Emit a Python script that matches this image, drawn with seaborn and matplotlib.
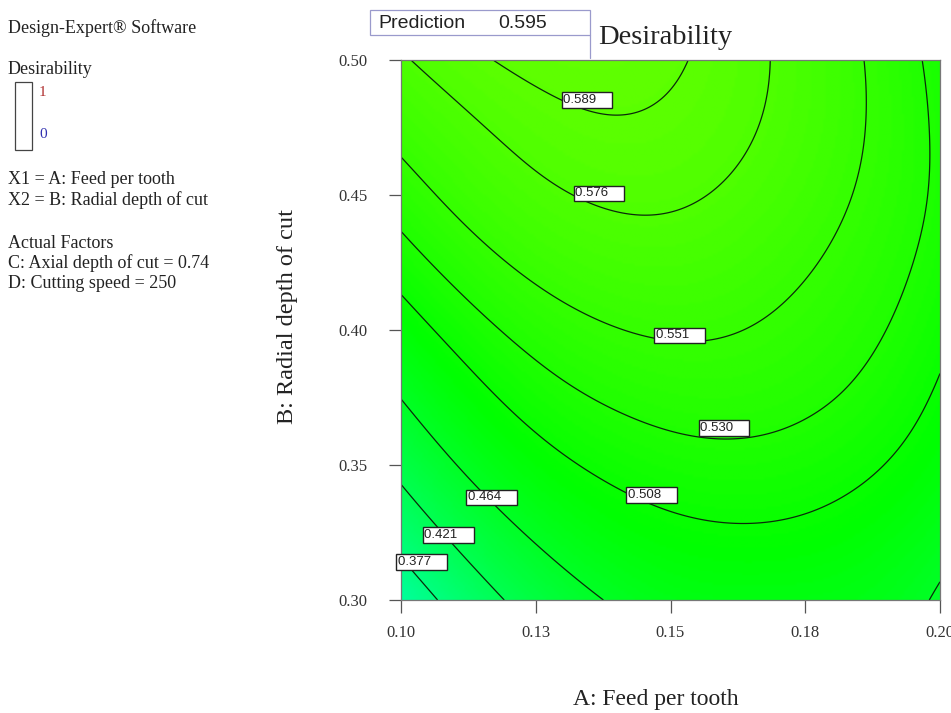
import numpy as np
import matplotlib
matplotlib.use("Agg")
import matplotlib.pyplot as plt
from matplotlib.patches import Rectangle
from matplotlib.lines import Line2D
import seaborn as sns

# ---------------- data ----------------
levels = [0.377, 0.421, 0.464, 0.508, 0.530, 0.551, 0.576, 0.589]
# points traced on each contour (A: feed per tooth, B: radial depth of cut)
c589_x = [0.1169, 0.1234, 0.1304, 0.1403, 0.1481, 0.1519, 0.1532]
c589_y = [0.5000, 0.4930, 0.4852, 0.4804, 0.4878, 0.4967, 0.5000]
c576_x = [0.1019, 0.1174, 0.1325, 0.1429, 0.1566, 0.1649, 0.1688]
c576_y = [0.5000, 0.4741, 0.4481, 0.4415, 0.4481, 0.4674, 0.5000]
c551_x = [0.1002, 0.1174, 0.1223, 0.1351, 0.1473, 0.1566, 0.1662, 0.1761, 0.1842, 0.1863, 0.1859]
c551_y = [0.4641, 0.4274, 0.4215, 0.4067, 0.3963, 0.3944, 0.4063, 0.4274, 0.4500, 0.4759, 0.5000]
c530_x = [0.1002, 0.1223, 0.1388, 0.1553, 0.1597, 0.1685, 0.1777, 0.1876, 0.1904, 0.1959, 0.1980, 0.1967]
c530_y = [0.4356, 0.3941, 0.3741, 0.3607, 0.3589, 0.3630, 0.3707, 0.3848, 0.4037, 0.4237, 0.4630, 0.5000]
c508_x = [0.1002, 0.1223, 0.1421, 0.1622, 0.1777, 0.1861, 0.1941, 0.1993, 0.2000]
c508_y = [0.4122, 0.3630, 0.3389, 0.3278, 0.3341, 0.3437, 0.3589, 0.3807, 0.3863]
c464_x = [0.1002, 0.1176, 0.1276, 0.1377, 0.1983, 0.2000]
c464_y = [0.3744, 0.3348, 0.3163, 0.3000, 0.3000, 0.3081]
c421_x = [0.1002, 0.1091, 0.1184]
c421_y = [0.3419, 0.3222, 0.3000]
c377_x = [0.1002, 0.1072]
c377_y = [0.3148, 0.3000]
opt_x, opt_y, opt_val = 0.1355, 0.5000, 0.595

contour_traces = [
    (0.589, c589_x, c589_y), (0.576, c576_x, c576_y), (0.551, c551_x, c551_y),
    (0.530, c530_x, c530_y), (0.508, c508_x, c508_y), (0.464, c464_x, c464_y),
    (0.421, c421_x, c421_y), (0.377, c377_x, c377_y),
]

# contour label anchors (left edge of each label box)
label_vals = [0.589, 0.576, 0.551, 0.530, 0.508, 0.464, 0.421, 0.377]
label_x = [0.1301, 0.1323, 0.1473, 0.1555, 0.1421, 0.1124, 0.1043, 0.0994]
label_y = [0.4852, 0.4507, 0.3981, 0.3637, 0.3389, 0.3381, 0.3241, 0.3141]

x_ticks = [0.100, 0.125, 0.150, 0.175, 0.200]
x_ticklabels = ["0.10", "0.13", "0.15", "0.18", "0.20"]
y_ticks = [0.30, 0.35, 0.40, 0.45, 0.50]
y_ticklabels = ["0.30", "0.35", "0.40", "0.45", "0.50"]

# ---------------- smooth surface from the traced contours (moving least squares) ----------------
px, py, pz = [], [], []
for lv, xs, ys in contour_traces:
    px += xs; py += ys; pz += [lv] * len(xs)
px.append(opt_x); py.append(opt_y); pz.append(opt_val)
px, py, pz = map(np.asarray, (px, py, pz))

def coded(a, b):
    return (a - 0.15) / 0.05, (b - 0.40) / 0.10

def basis(u, v):
    return np.stack([np.ones_like(u), u, v, u * u, u * v, v * v], axis=-1)

u, v = coded(px, py)
n = len(u)
B = basis(u, v)
BB = (B[:, :, None] * B[:, None, :]).reshape(n, 36)
Bz = B * pz[:, None]

gx = np.linspace(0.10, 0.20, 220)
gy = np.linspace(0.30, 0.50, 220)
GX, GY = np.meshgrid(gx, gy)
GU, GV = coded(GX.ravel(), GY.ravel())
sigma = 0.3
D2 = (GU[:, None] - u[None, :]) ** 2 + (GV[:, None] - v[None, :]) ** 2
Wt = np.exp(-D2 / (2 * sigma ** 2))
M = (Wt @ BB).reshape(-1, 6, 6) + 1e-8 * np.eye(6)
r = Wt @ Bz
c = np.linalg.solve(M, r[..., None])[..., 0]
GZ = np.sum(c * basis(GU, GV), axis=1).reshape(GX.shape)

# ---------------- figure ----------------
sns.set_theme(style="white")
plt.rcParams["font.family"] = ["Liberation Serif", "DejaVu Serif"]

W, H = 951, 713
fig = plt.figure(figsize=(W / 100, H / 100), dpi=100)
ax = fig.add_axes([401 / W, 1 - 600 / H, 539 / W, 540 / H])

cmap = sns.blend_palette(["#0000ff", "#00ffff", "#00ff00", "#ffff00", "#ff0000"], as_cmap=True)
ax.imshow(GZ, extent=[0.10, 0.20, 0.30, 0.50], origin="lower", cmap=cmap,
          vmin=0, vmax=1, aspect="auto", interpolation="bilinear")
ax.contour(GX, GY, GZ, levels=levels, colors="#0a2a0a", linewidths=0.9)

for val, lx, ly in zip(label_vals, label_x, label_y):
    ax.text(lx, ly, f"{val:.3f}    ", family=["Liberation Sans"], fontsize=9.5,
            color="#222222", ha="left", va="center", zorder=5,
            bbox=dict(boxstyle="square,pad=0.12", fc="white", ec="#222222", lw=1.0))

ax.set_xlim(0.10, 0.20)
ax.set_ylim(0.30, 0.50)
ax.set_xticks(x_ticks)
ax.set_xticklabels(x_ticklabels)
ax.set_yticks(y_ticks)
ax.set_yticklabels(y_ticklabels)
ax.tick_params(axis="both", which="both", direction="out", length=9, width=0.9,
               color="#555555", labelsize=12, labelcolor="#333333",
               bottom=True, left=True, top=False, right=False)
ax.tick_params(axis="x", pad=9)
ax.tick_params(axis="y", pad=15)
for s in ax.spines.values():
    s.set_color("#777777")
    s.set_linewidth(0.9)

ax.set_xlabel("A: Feed per tooth", fontsize=17, color="#222222", va="center")
ax.xaxis.set_label_coords((656 - 401) / 539, (600 - 700) / 540)
ax.set_ylabel("B: Radial depth of cut", fontsize=17.5, color="#222222", va="center")
ax.yaxis.set_label_coords((288 - 401) / 539, (600 - 316) / 540)

fig.text(598 / W, 1 - 38 / H, "Desirability", fontsize=20.5, ha="left", va="center", color="#222222")

# prediction box
fig.patches.append(Rectangle((370 / W, 1 - 35 / H), 220 / W, 25 / H, transform=fig.transFigure,
                             fill=False, ec="#9a9acc", lw=0.9))
fig.lines.append(Line2D([590 / W, 590 / W], [1 - 35 / H, 1 - 58 / H], transform=fig.transFigure,
                        color="#9a9acc", lw=0.9))
fig.text(378 / W, 1 - 23 / H, "Prediction", family=["Liberation Sans"], fontsize=14,
         ha="left", va="center", color="#222222")
fig.text(498 / W, 1 - 23 / H, f"{opt_val:.3f}", family=["Liberation Sans"], fontsize=14,
         ha="left", va="center", color="#222222")

# left side information panel
side = [
    (28, "Design-Expert\u00ae Software"),
    (70, "Desirability"),
    (180, "X1 = A: Feed per tooth"),
    (200, "X2 = B: Radial depth of cut"),
    (243, "Actual Factors"),
    (263, "C: Axial depth of cut = 0.74"),
    (284, "D: Cutting speed = 250"),
]
for yy, t in side:
    fig.text(8 / W, 1 - yy / H, t, fontsize=13, ha="left", va="center", color="#222222")
fig.patches.append(Rectangle((15 / W, 1 - 150 / H), 17 / W, 68 / H, transform=fig.transFigure,
                             fill=False, ec="#444444", lw=0.9))
fig.text(39 / W, 1 - 92 / H, "1", fontsize=11, color="#b03030", ha="left", va="center")
fig.text(39 / W, 1 - 134 / H, "0", fontsize=11, color="#3030b0", ha="left", va="center")

fig.savefig("out.png", dpi=100, facecolor="white")
